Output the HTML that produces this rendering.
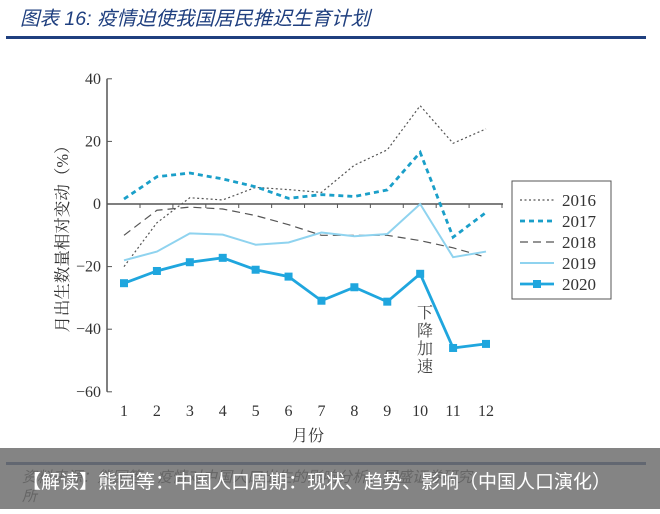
<!DOCTYPE html>
<html><head><meta charset="utf-8"><style>
body{margin:0;width:660px;height:509px;overflow:hidden;background:#fff;font-family:"Liberation Serif","Noto Serif CJK SC",serif;}
</style></head><body>
<svg width="660" height="509" viewBox="0 0 660 509">
<text x="20" y="25" font-size="19.5" font-style="italic" fill="#1f3f7f" font-family="Liberation Sans, Noto Sans CJK SC, sans-serif">图表 16:  疫情迫使我国居民推迟生育计划</text>
<rect x="6" y="36" width="640" height="3" fill="#1f3f7f"/>
<g id="plot"></g>
<rect x="512" y="181" width="99" height="118" fill="#fff" stroke="#555" stroke-width="1"/>
<g id="legend"></g>
<text x="308" y="441" font-size="16" text-anchor="middle" fill="#333" font-family="Noto Serif CJK SC, serif">月份</text>
<text transform="translate(68,235) rotate(-90)" font-size="16.5" text-anchor="middle" fill="#333" font-family="Liberation Serif, Noto Serif CJK SC, serif">月出生数量相对变动（%）</text>
<g font-size="16" fill="#444" font-family="Noto Serif CJK SC, serif" text-anchor="middle">
<text x="425" y="318">下</text><text x="425" y="336">降</text><text x="425" y="354">加</text><text x="425" y="372">速</text></g>
<rect x="6" y="462" width="640" height="3" fill="#1f3f7f"/>
<text x="22" y="482" font-size="15" font-style="italic" fill="#333" font-family="Liberation Sans, Noto Sans CJK SC, sans-serif">资料来源：熊园等：疫情对中国人口出生的影响分析，国盛证券研究</text>
<text x="22" y="501" font-size="15" font-style="italic" fill="#333" font-family="Liberation Sans, Noto Sans CJK SC, sans-serif">所</text>
<rect x="0" y="448" width="660" height="61" fill="rgba(110,110,110,0.85)"/>
<text x="22" y="488" font-size="19" fill="#fff" font-family="Liberation Sans, Noto Sans CJK SC, sans-serif">【解读】熊园等：中国人口周期：现状、趋势、影响（中国人口演化）</text>
</svg>
<script>
const months=[1,2,3,4,5,6,7,8,9,10,11,12];
const yTicks=[40,20,0,-20,-40,-60];
const s2016=[-20,-6,2,1.3,5.3,4.6,3.7,12.4,17.3,31.4,19.4,24];
const s2017=[1.6,8.7,9.9,8,5.5,1.8,3,2.4,4.5,16.5,-10.6,-2.7];
const s2018=[-10,-2,-1,-1.6,-3.7,-6.6,-10,-10,-10,-11.7,-14,-17];
const s2019=[-18,-15.2,-9.4,-9.8,-13,-12.3,-9.1,-10.3,-9.6,0,-17,-15.2];
const s2020=[-25.3,-21.4,-18.6,-17.2,-21,-23.2,-30.9,-26.6,-31.2,-22.3,-46,-44.7];
const seriesNames=["2016","2017","2018","2019","2020"];
const NS="http://www.w3.org/2000/svg";
const x=m=>124+(m-1)*(486-124)/11;
const y=v=>204-v*3.13;
const plot=document.getElementById('plot');
function mk(t,a,p){const e=document.createElementNS(NS,t);for(const k in a)e.setAttribute(k,a[k]);(p||plot).appendChild(e);return e;}
let e=mk('line',{x1:107,y1:y(40),x2:107,y2:y(-60),stroke:'#555','stroke-width':1.5});


e=mk('line',{x1:107,y1:y(0),x2:503,y2:y(0),stroke:'#555','stroke-width':1.5});


yTicks.forEach(v=>{
 const t=mk('line',{x1:107,y1:y(v),x2:112,y2:y(v),stroke:'#555'});
 
 
 const l=mk('text',{x:101,y:y(v)+5,'font-size':16,'text-anchor':'end',fill:'#333'});
 l.textContent=(v<0?'−':'')+Math.abs(v);
 
 
});
months.forEach(m=>{
 const t=mk('line',{x1:x(m)+16,y1:y(0),x2:x(m)+16,y2:y(0)+4,stroke:'#555'});
 
 
 const l=mk('text',{x:x(m),y:416,'font-size':16,'text-anchor':'middle',fill:'#333'});
 l.textContent=m;
 
 
});
const styles=[
 {stroke:'#555',w:1.2,dash:'2,2.5'},
 {stroke:'#1a9fc9',w:2.8,dash:'5,4'},
 {stroke:'#555',w:1.2,dash:'8,5'},
 {stroke:'#8fd3ef',w:2,dash:''},
 {stroke:'#1fa6de',w:2.8,dash:''}];
[s2016,s2017,s2018,s2019,s2020].forEach((s,i)=>{
 const st=styles[i];
 const p=mk('polyline',{points:s.map((v,j)=>x(months[j])+','+y(v)).join(' '),fill:'none',stroke:st.stroke,'stroke-width':st.w,'stroke-dasharray':st.dash});
 
 
 if(i===4) s.forEach((v,j)=>{
  const r=mk('rect',{x:x(months[j])-4,y:y(v)-4,width:8,height:8,fill:'#1fa6de'});
  
  
 });
 const lg=document.getElementById('legend');
 const ly=200+i*21;
 const ll=mk('line',{x1:520,y1:ly,x2:554,y2:ly,stroke:st.stroke,'stroke-width':st.w,'stroke-dasharray':st.dash},lg);
 
 
 if(i===4){const r=mk('rect',{x:533,y:ly-4,width:8,height:8,fill:'#1fa6de'},lg);}
 const lt=mk('text',{x:562,y:ly+6,'font-size':17,fill:'#333'},lg);
 lt.textContent=seriesNames[i];
 
 
});
</script>
</body></html>
